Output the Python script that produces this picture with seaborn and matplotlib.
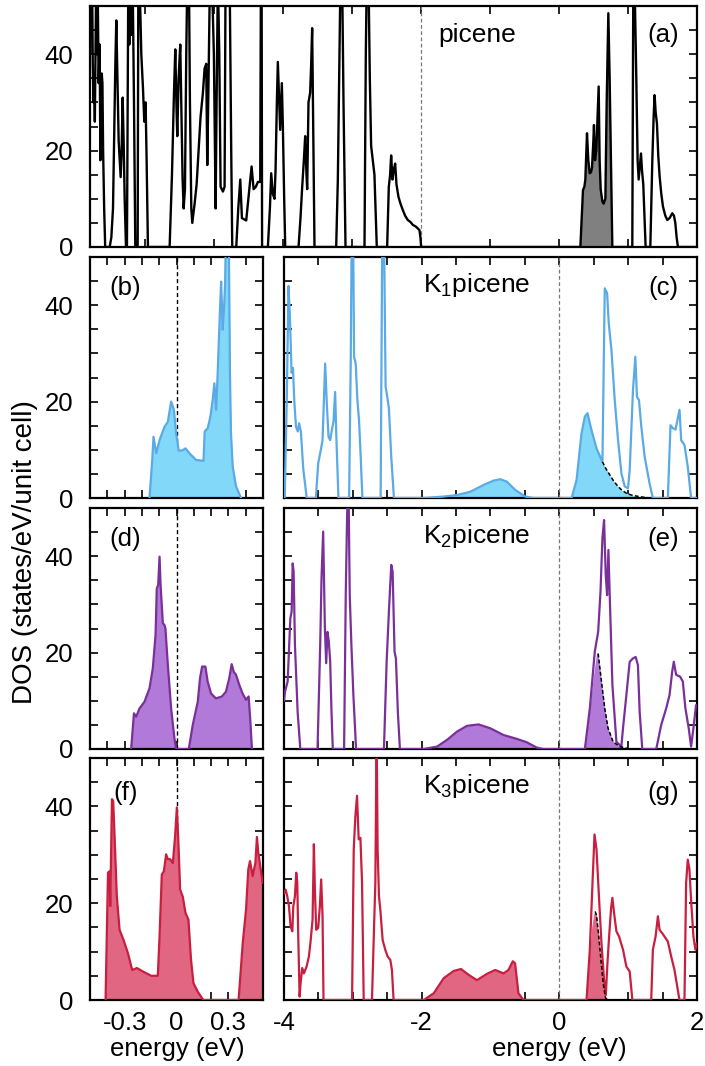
import numpy as np
import matplotlib
matplotlib.use("Agg")
import matplotlib.pyplot as plt
import seaborn as sns
from matplotlib.ticker import MultipleLocator

sns.set_style("ticks")
plt.rcParams['font.family'] = ['Liberation Sans', 'DejaVu Sans']
plt.rcParams['axes.unicode_minus'] = False
plt.rcParams['mathtext.fontset'] = 'custom'
plt.rcParams['mathtext.rm'] = 'Liberation Sans'
plt.rcParams['mathtext.it'] = 'Liberation Sans:italic'
plt.rcParams['text.color'] = 'black'
plt.rcParams['axes.labelcolor'] = 'black'
plt.rcParams['xtick.color'] = 'black'
plt.rcParams['ytick.color'] = 'black'

# ---------------- data (energy eV, DOS states/eV/unit cell) ----------------
picene_dos = [
    (-4.80, 52), (-4.79, 40), (-4.78, 56), (-4.77, 44), (-4.76, 56), (-4.75, 38), (-4.74, 30), (-4.73, 36),
    (-4.72, 26), (-4.70, 56), (-4.69, 40), (-4.68, 56), (-4.665, 34), (-4.65, 42), (-4.64, 18), (-4.63, 22),
    (-4.62, 36), (-4.61, 34), (-4.60, 20), (-4.585, 8), (-4.57, 0),
    (-4.505, 0), (-4.481, 2), (-4.457, 8), (-4.443, 20), (-4.423, 38), (-4.409, 47), (-4.394, 36), (-4.375, 22),
    (-4.346, 14.5), (-4.332, 20), (-4.317, 31), (-4.303, 22), (-4.288, 10), (-4.269, 0),
    (-4.255, 0), (-4.245, 30), (-4.235, 56), (-4.221, 42), (-4.206, 56), (-4.187, 44), (-4.173, 56), (-4.153, 30), (-4.134, 0),
    (-4.10, 0), (-4.09, 56), (-4.075, 56), (-4.06, 48), (-4.047, 40), (-4.023, 33), (-4.004, 26), (-3.985, 30), (-3.970, 18), (-3.951, 0),
    (-3.637, 0), (-3.603, 15), (-3.574, 32), (-3.555, 41), (-3.536, 28), (-3.526, 23), (-3.507, 35), (-3.483, 42),
    (-3.468, 30), (-3.449, 14), (-3.434, 8), (-3.415, 12), (-3.396, 40), (-3.381, 56), (-3.357, 56), (-3.343, 30),
    (-3.323, 8), (-3.309, 5), (-3.275, 9), (-3.246, 13), (-3.217, 20), (-3.189, 27), (-3.155, 32), (-3.131, 37),
    (-3.107, 38), (-3.092, 17), (-3.073, 35), (-3.053, 56), (-3.025, 56), (-2.996, 40), (-2.971, 8), (-2.957, 30),
    (-2.938, 56), (-2.918, 40), (-2.899, 12.5), (-2.865, 11.5), (-2.841, 12.5), (-2.827, 56), (-2.793, 56),
    (-2.764, 50), (-2.745, 20), (-2.730, 0),
    (-2.672, 0), (-2.643, 8), (-2.614, 14), (-2.590, 6), (-2.528, 5.5), (-2.489, 11), (-2.450, 16.7), (-2.421, 12),
    (-2.388, 12.5), (-2.359, 13.5), (-2.325, 13.5), (-2.315, 56), (-2.305, 56), (-2.298, 0),
    (-2.214, 0), (-2.185, 8), (-2.166, 15.3), (-2.142, 11), (-2.118, 10), (-2.103, 16), (-2.084, 30), (-2.070, 38.4),
    (-2.050, 30), (-2.036, 24.3), (-2.012, 34), (-1.997, 25), (-1.978, 10), (-1.963, 0),
    (-1.770, 0), (-1.742, 6), (-1.717, 12.5), (-1.693, 18), (-1.674, 23), (-1.655, 15), (-1.645, 12), (-1.626, 30),
    (-1.602, 32), (-1.587, 38), (-1.573, 45.4), (-1.558, 25), (-1.539, 0),
    (-1.225, 0), (-1.201, 14), (-1.177, 40), (-1.163, 56), (-1.139, 56), (-1.119, 30), (-1.090, 0),
    (-0.815, 0), (-0.796, 40), (-0.782, 56), (-0.757, 56), (-0.738, 35), (-0.719, 21), (-0.695, 18), (-0.671, 15),
    (-0.651, 6), (-0.637, 0),
    (-0.487, 0), (-0.463, 12.5), (-0.444, 15), (-0.429, 19), (-0.410, 14), (-0.391, 16), (-0.371, 17.3), (-0.352, 13),
    (-0.323, 10.4), (-0.294, 9), (-0.261, 7.7), (-0.227, 6.5), (-0.188, 5.6), (-0.150, 5.2), (-0.116, 4.6),
    (-0.068, 4.2), (-0.019, 3.5), (-0.005, 2), (0.005, 0),
    (2.311, 0), (2.330, 6), (2.349, 11.8), (2.369, 12.5), (2.383, 14), (2.407, 23.6), (2.426, 18), (2.446, 15.3),
    (2.465, 15.5), (2.480, 16.5), (2.499, 22), (2.508, 25.3), (2.523, 18), (2.542, 20), (2.562, 28), (2.576, 33.3),
    (2.590, 18), (2.605, 12), (2.629, 9.5), (2.648, 9), (2.673, 10), (2.692, 30), (2.716, 48.5), (2.735, 35),
    (2.750, 21.5), (2.764, 8), (2.774, 0),
    (3.063, 0), (3.078, 56), (3.095, 56), (3.121, 35), (3.140, 18), (3.155, 14), (3.174, 17), (3.189, 19.4),
    (3.203, 16), (3.222, 13), (3.256, 0),
    (3.324, 0), (3.353, 18), (3.372, 27), (3.386, 31.5), (3.401, 28), (3.420, 25.6), (3.439, 19), (3.459, 14.6),
    (3.483, 11), (3.507, 8.4), (3.541, 6.5), (3.570, 5.6), (3.603, 6), (3.642, 7), (3.666, 6.5), (3.686, 5),
    (3.705, 2), (3.724, 0), (4.0, 0),
]
picene_lumo_range = (2.30, 2.78)

k1_zoom = [
    (-0.156, 0), (-0.140, 8), (-0.133, 12.7), (-0.117, 9.3), (-0.098, 12), (-0.069, 14.8), (-0.050, 15.8),
    (-0.031, 20), (-0.015, 18.3), (-0.002, 13.4), (0.013, 9.8), (0.036, 9.9), (0.052, 10.3), (0.074, 9.3),
    (0.113, 7.9), (0.156, 7.7), (0.163, 13.8), (0.181, 14.5), (0.196, 16.9), (0.209, 20.3), (0.219, 23.8),
    (0.229, 18.3), (0.238, 25.9), (0.252, 39.7), (0.258, 44.9), (0.267, 34.9), (0.275, 39.7), (0.281, 44.5),
    (0.286, 56), (0.302, 56), (0.309, 26), (0.315, 13.4), (0.325, 6.5), (0.344, 2.4), (0.373, 0),
]
k1_total = [
    (-3.99, 0), (-3.96, 20), (-3.935, 44), (-3.915, 38), (-3.89, 26), (-3.87, 27), (-3.85, 20), (-3.826, 14.8),
    (-3.80, 13.8), (-3.78, 15.5), (-3.755, 13.8), (-3.72, 6), (-3.67, 0),
    (-3.537, 0), (-3.503, 7.2), (-3.474, 9.3), (-3.440, 12), (-3.402, 27.9), (-3.378, 19.6), (-3.353, 12.7),
    (-3.329, 12), (-3.305, 14.1), (-3.281, 15.8), (-3.257, 22), (-3.238, 12), (-3.209, 0),
    (-3.054, 0), (-3.030, 29.3), (-3.016, 56), (-2.996, 56), (-2.982, 29.3), (-2.958, 27.9), (-2.934, 20.3),
    (-2.910, 16.2), (-2.886, 8.6), (-2.861, 0),
    (-2.596, 0), (-2.572, 56), (-2.548, 56), (-2.524, 23.1), (-2.500, 21), (-2.476, 18.6), (-2.442, 8.6), (-2.403, 0),
    (-1.969, 0), (-1.680, 0.3), (-1.487, 0.6), (-1.294, 1.3), (-1.101, 2.7), (-0.956, 3.6), (-0.859, 3.9),
    (-0.763, 3.4), (-0.642, 1.7), (-0.498, 0.3), (-0.377, 0),
    (0.178, 0), (0.250, 3.7), (0.322, 13.4), (0.371, 16.9), (0.409, 17.6), (0.467, 14.1), (0.540, 10.3),
    (0.626, 7.5), (0.660, 43.5), (0.694, 42.5), (0.718, 36.2), (0.757, 30.7), (0.805, 20.3), (0.853, 12),
    (0.902, 5.1), (0.950, 2.4), (0.998, 2), (1.022, 5.8), (1.070, 22.4), (1.104, 29.3), (1.128, 21), (1.157, 20.3),
    (1.191, 14.8), (1.239, 8.6), (1.311, 3), (1.359, 0),
    (1.577, 0), (1.615, 15.1), (1.649, 14.5), (1.688, 14.2), (1.746, 18.3), (1.770, 12), (1.818, 11), (1.866, 6.5),
    (1.914, 0), (2.0, 0),
]
k1_filled = [
    (-1.969, 0), (-1.680, 0.3), (-1.487, 0.6), (-1.294, 1.3), (-1.101, 2.7), (-0.956, 3.6), (-0.859, 3.9),
    (-0.763, 3.4), (-0.642, 1.7), (-0.498, 0.3), (-0.377, 0),
    (0.178, 0), (0.250, 3.7), (0.322, 13.4), (0.371, 16.9), (0.409, 17.6), (0.467, 14.1), (0.540, 10.3),
    (0.626, 7.5), (0.680, 6.0), (0.733, 4.8), (0.790, 3.5), (0.853, 2.4), (0.910, 1.6), (0.974, 1.0),
    (1.050, 0.6), (1.118, 0.4), (1.200, 0.2), (1.311, 0),
]
k1_dash_from = 0.62

k2_zoom = [
    (-0.262, 0), (-0.246, 7.4), (-0.233, 6.7), (-0.214, 8.4), (-0.185, 9.8), (-0.156, 12.6), (-0.137, 16.7),
    (-0.121, 23.7), (-0.114, 33.3), (-0.106, 34), (-0.098, 39.9), (-0.092, 34), (-0.079, 26.1), (-0.069, 25.7),
    (-0.064, 25), (-0.050, 17.4), (-0.031, 8.4), (-0.012, 2.2), (-0.002, 0),
    (0.071, 0), (0.094, 5), (0.123, 9.8), (0.136, 14.7), (0.148, 17.1), (0.167, 17.1), (0.180, 14), (0.200, 11.5),
    (0.228, 10.5), (0.263, 10.9), (0.286, 11.9), (0.305, 14.7), (0.319, 17.6), (0.331, 16), (0.344, 15.4),
    (0.363, 13.3), (0.382, 11.5), (0.402, 10.2), (0.417, 10.9), (0.427, 5.7), (0.436, 0),
]
k2_total = [
    (-4.0, 10), (-3.985, 11.9), (-3.947, 14), (-3.908, 27.1), (-3.889, 28.5), (-3.874, 38.5), (-3.860, 36.8),
    (-3.841, 21.6), (-3.802, 7.7), (-3.763, 0),
    (-3.513, 0), (-3.474, 21.6), (-3.455, 35.4), (-3.431, 45.1), (-3.406, 25), (-3.387, 17.8), (-3.368, 24.3),
    (-3.349, 22.3), (-3.329, 18.1), (-3.310, 7.7), (-3.291, 0),
    (-3.127, 0), (-3.103, 31.9), (-3.083, 48.5), (-3.064, 56), (-3.045, 31.9), (-3.021, 21.6), (-2.992, 11.2), (-2.953, 0),
    (-2.548, 0), (-2.509, 18.1), (-2.476, 28.5), (-2.442, 38.2), (-2.422, 36.8), (-2.394, 20.2), (-2.374, 18.8),
    (-2.346, 7.7), (-2.316, 0),
    (-1.969, 0), (-1.776, 0.5), (-1.631, 1.9), (-1.487, 3.6), (-1.342, 4.8), (-1.173, 5.1), (-1.004, 4.3),
    (-0.811, 2.9), (-0.618, 2.1), (-0.474, 1.4), (-0.329, 0.3), (-0.232, 0),
    (0.371, 0), (0.443, 8.4), (0.515, 20.2), (0.564, 24.3), (0.598, 32.6), (0.626, 43.7), (0.650, 47.5),
    (0.674, 36.1), (0.694, 31.9), (0.713, 41.3), (0.732, 31.9), (0.771, 13.3), (0.829, 1.5), (0.901, 0.5),
    (0.925, 4.3), (0.974, 11.2), (1.022, 18.1), (1.070, 18.8), (1.109, 19.1), (1.142, 17.4), (1.167, 7.7), (1.205, 0),
    (1.408, 0), (1.480, 5), (1.552, 8.4), (1.601, 11.2), (1.639, 16), (1.663, 18.1), (1.697, 15.4), (1.755, 15),
    (1.794, 14), (1.832, 8.4), (1.880, 4.3), (1.914, 0.5), (1.948, 4.3), (1.986, 9.1),
]
k2_filled = [
    (-1.969, 0), (-1.776, 0.5), (-1.631, 1.9), (-1.487, 3.6), (-1.342, 4.8), (-1.173, 5.1), (-1.004, 4.3),
    (-0.811, 2.9), (-0.618, 2.1), (-0.474, 1.4), (-0.329, 0.3), (-0.232, 0),
    (0.371, 0), (0.443, 8.4), (0.491, 14.7), (0.540, 19.9), (0.564, 19.8), (0.612, 14), (0.660, 8.4),
    (0.708, 4.3), (0.781, 1.5), (0.877, 0.5), (1.022, 0),
]
k2_dash_from = 0.56

k3_zoom = [
    (-0.410, 0), (-0.396, 26.3), (-0.387, 26.6), (-0.383, 19.4), (-0.373, 41.5), (-0.366, 41.1), (-0.358, 33.9),
    (-0.345, 21.4), (-0.329, 14.5), (-0.306, 12.4), (-0.281, 9.7), (-0.256, 6.2), (-0.229, 6.6), (-0.195, 5.9),
    (-0.146, 5), (-0.108, 5), (-0.098, 13.1), (-0.085, 25.9), (-0.073, 26.6), (-0.060, 30.1), (-0.050, 29.1),
    (-0.037, 29.1), (-0.021, 28.3), (-0.008, 33.9), (0.002, 39.8), (0.011, 32.5), (0.021, 22.8), (0.036, 21.4),
    (0.052, 18), (0.069, 16.6), (0.084, 8.3), (0.098, 3.5), (0.123, 1.7), (0.142, 0.7), (0.155, 0),
    (0.359, 0), (0.383, 11.8), (0.402, 18.7), (0.415, 27), (0.425, 28.7), (0.440, 25.6), (0.456, 28.3),
    (0.465, 33.7), (0.473, 30.4), (0.484, 27.7), (0.498, 24.2),
]
k3_total = [
    (-4.0, 22), (-3.976, 22.8), (-3.952, 21.4), (-3.928, 19.4), (-3.904, 15.2), (-3.879, 14.2), (-3.865, 19.4),
    (-3.841, 21.4), (-3.822, 26.3), (-3.807, 24.2), (-3.793, 13.1), (-3.773, 0.7), (-3.759, 3.5), (-3.735, 6.6),
    (-3.711, 5.5), (-3.672, 6.9), (-3.638, 9), (-3.614, 12.1), (-3.585, 16.6), (-3.566, 32.2), (-3.551, 22.8),
    (-3.532, 14.5), (-3.503, 14.9), (-3.479, 19.4), (-3.460, 24.9), (-3.440, 17.3), (-3.426, 0),
    (-3.011, 0), (-2.987, 31.1), (-2.963, 38), (-2.939, 42.2), (-2.915, 33.2), (-2.890, 33.5), (-2.866, 24.2), (-2.842, 0),
    (-2.722, 0), (-2.688, 16.9), (-2.673, 24.2), (-2.654, 56), (-2.640, 31.1), (-2.620, 21.4), (-2.601, 18.7),
    (-2.567, 12.4), (-2.529, 10.4), (-2.495, 9), (-2.456, 8.3), (-2.432, 6.2), (-2.408, 0),
    (-1.969, 0), (-1.824, 1.4), (-1.680, 4.5), (-1.535, 6), (-1.429, 6.4), (-1.318, 5.2), (-1.197, 4.1),
    (-1.052, 5.4), (-0.932, 6.2), (-0.811, 5.5), (-0.739, 6.2), (-0.676, 8), (-0.643, 7.6), (-0.594, 1.4), (-0.522, 0),
    (0.395, 0), (0.443, 10.4), (0.482, 24.2), (0.511, 34.2), (0.540, 31.1), (0.578, 20.7), (0.612, 11.8),
    (0.650, 4.1), (0.675, 1), (0.699, 7.6), (0.723, 13.1), (0.752, 19), (0.771, 21.1), (0.795, 18), (0.829, 14.2),
    (0.868, 13.1), (0.925, 10.4), (0.974, 6.9), (1.022, 5.9), (1.061, 0),
    (1.335, 0), (1.359, 10.4), (1.398, 13.1), (1.432, 17.3), (1.456, 14.5), (1.495, 13.8), (1.528, 13.1),
    (1.576, 12.1), (1.625, 9), (1.673, 6.2), (1.721, 2.1), (1.745, 0),
    (1.818, 0), (1.842, 24.2), (1.866, 29), (1.890, 27), (1.914, 20.7), (1.948, 13.1), (1.977, 10.4), (2.0, 11.8),
]
k3_filled = [
    (-1.969, 0), (-1.824, 1.4), (-1.680, 4.5), (-1.535, 6), (-1.429, 6.4), (-1.318, 5.2), (-1.197, 4.1),
    (-1.052, 5.4), (-0.932, 6.2), (-0.811, 5.5), (-0.739, 6.2), (-0.676, 8), (-0.643, 7.6), (-0.594, 1.4), (-0.522, 0),
    (0.395, 0), (0.443, 10.0), (0.47, 15), (0.50, 17.8), (0.52, 18.3), (0.54, 17.5), (0.57, 13.5), (0.60, 9),
    (0.636, 3.5), (0.67, 0.5), (0.70, 0),
]
k3_dash_from = 0.52

compound_labels = ["picene", r"K$_\mathregular{1}$picene", r"K$_\mathregular{2}$picene", r"K$_\mathregular{3}$picene"]
panel_letters = ["(a)", "(b)", "(c)", "(d)", "(e)", "(f)", "(g)"]
y_ticks = [0, 20, 40]
wide_ticks = [-4, -2, 0, 2]
narrow_ticks = [-0.3, 0, 0.3]
narrow_tick_labels = ["-0.3", "0", "0.3"]

# ---------------- style ----------------
blue_line, blue_fill = "#5aaae6", "#82d8f8"
purple_line, purple_fill = "#7a3098", "#b27ad8"
red_line, red_fill = "#c81e40", "#e06682"
FS = 18.5

W, H = 705, 1066
fig = plt.figure(figsize=(W / 100, H / 100), dpi=100)


def box(l, t, r, b):
    return [l / W, 1 - b / H, (r - l) / W, (b - t) / H]


def arr(pts):
    a = np.array(pts, dtype=float)
    return a[:, 0], a[:, 1]


def line(ax, pts, color, lw=1.6):
    e, v = arr(pts)
    sns.lineplot(x=e, y=v, ax=ax, color=color, lw=lw, sort=False, estimator=None, legend=False, zorder=3)


def fill(ax, pts, color, where_range=None):
    e, v = arr(pts)
    where = None
    if where_range is not None:
        where = (e >= where_range[0]) & (e <= where_range[1])
    ax.fill_between(e, 0, v, where=where, color=color, lw=0, zorder=2)


def dashed(ax, pts, start):
    e, v = arr(pts)
    m = e >= start
    sns.lineplot(x=e[m], y=v[m], ax=ax, color="black", lw=1.1, ls=(0, (2.5, 1.5)),
                 sort=False, estimator=None, legend=False, zorder=4)


def setup(ax, xlim, xmaj, xminor, xlabels=None, ylab=False):
    ax.set_xlim(*xlim)
    ax.set_ylim(0, 50)
    if xlabels is None:
        ax.set_xticks(xmaj)
        ax.tick_params(axis='x', labelbottom=False)
    else:
        ax.set_xticks(xmaj, xlabels)
    ax.xaxis.set_minor_locator(MultipleLocator(xminor))
    ax.set_yticks(y_ticks, [str(t) for t in y_ticks])
    ax.yaxis.set_minor_locator(MultipleLocator(5))
    ax.tick_params(which='both', direction='in', top=True, right=True, length=5.5, width=1.2,
                   labelsize=FS, colors='black')
    ax.tick_params(axis='x', pad=8)
    ax.tick_params(axis='y', pad=12, labelleft=ylab)
    for s in ax.spines.values():
        s.set_linewidth(1.6)
        s.set_color('black')
    ax.set_xlabel("")
    ax.set_ylabel("")


def zero_line(ax, color, lw):
    ax.axvline(0, color=color, lw=lw, ls=(0, (3, 2)), zorder=1)


# panel (a)
ax_a = fig.add_axes(box(90, 6, 697, 247))
fill(ax_a, picene_dos, "#808080", picene_lumo_range)
line(ax_a, picene_dos, "black", lw=1.7)
zero_line(ax_a, "#777777", 0.9)
setup(ax_a, (-4.79, 3.99), np.arange(-4, 5, 1), 1, None, True)
ax_a.text(0.6376, 0.88, compound_labels[0], transform=ax_a.transAxes, ha='center', va='center', fontsize=FS + 0.5)
ax_a.text(0.944, 0.88, panel_letters[0], transform=ax_a.transAxes, ha='center', va='center', fontsize=FS)

rows = [(257, 498), (508, 749), (758, 1000)]
zoom_data = [k1_zoom, k2_zoom, k3_zoom]
total_data = [k1_total, k2_total, k3_total]
filled_data = [k1_filled, k2_filled, k3_filled]
dash_from = [k1_dash_from, k2_dash_from, k3_dash_from]
colors = [(blue_line, blue_fill), (purple_line, purple_fill), (red_line, red_fill)]

for i, (t, b) in enumerate(rows):
    lc, fc = colors[i]
    last = (i == 2)
    # narrow panel
    axl = fig.add_axes(box(90, t, 263, b))
    fill(axl, zoom_data[i], fc)
    line(axl, zoom_data[i], lc)
    zero_line(axl, "black", 1.0)
    setup(axl, (-0.5, 0.5), narrow_ticks, 0.1, narrow_tick_labels if last else None, True)
    axl.text(0.205, 0.87 if not last else 0.855, panel_letters[1 + 2 * i], transform=axl.transAxes,
             ha='center', va='center', fontsize=FS)
    # wide panel
    axr = fig.add_axes(box(284, t, 697, b))
    fill(axr, filled_data[i], fc)
    line(axr, total_data[i], lc)
    dashed(axr, filled_data[i], dash_from[i])
    zero_line(axr, "#777777", 0.9)
    setup(axr, (-4, 2), wide_ticks, 0.5, [str(v) for v in wide_ticks] if last else None, False)
    axr.text(0.467, 0.885, compound_labels[i + 1], transform=axr.transAxes, ha='center', va='center', fontsize=FS + 0.5)
    axr.text(0.918, 0.87 if not last else 0.855, panel_letters[2 + 2 * i], transform=axr.transAxes,
             ha='center', va='center', fontsize=FS)

fig.text(25 / W, 1 - 552 / H, "DOS (states/eV/unit cell)", rotation=90, ha='center', va='center', fontsize=20)
fig.text(177 / W, 1 - 1049 / H, "energy (eV)", ha='center', va='center', fontsize=FS)
fig.text(559 / W, 1 - 1049 / H, "energy (eV)", ha='center', va='center', fontsize=FS)

fig.savefig("out.png", dpi=100)
